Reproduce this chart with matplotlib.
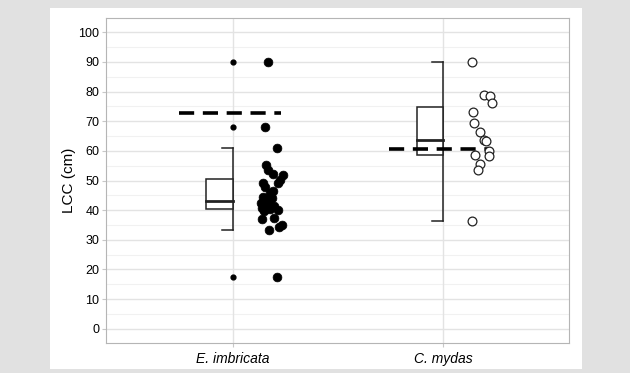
import matplotlib
matplotlib.use("Agg")
import matplotlib.pyplot as plt
from matplotlib.patches import Rectangle
import numpy as np

plt.rcParams['font.family'] = ['Liberation Sans', 'DejaVu Sans']

categories = ["E. imbricata", "C. mydas"]

# Box stats: whisker low, q1, median, q3, whisker high
whisker_low = [33.3, 36.3]
q1 = [40.3, 58.5]
median = [43.0, 63.8]
q3 = [50.4, 74.9]
whisker_high = [61.1, 90.1]
outliers = [[90.0, 68.0, 17.5], []]
mean_line = [72.9, 60.7]

imbricata_vals = [90.0, 68.0, 61.1, 55.3, 53.4, 52.2, 51.9, 50.2, 49.1, 49.1,
                  47.8, 46.3, 45.7, 44.6, 44.0, 43.5, 42.5, 42.0, 41.5, 40.8,
                  40.5, 40.1, 39.8, 37.1, 37.3, 35.0, 34.2, 33.4, 17.4]
imbricata_off = [0.168, 0.154, 0.213, 0.158, 0.169, 0.193, 0.238, 0.225, 0.146, 0.217,
                 0.154, 0.190, 0.177, 0.144, 0.187, 0.154, 0.135, 0.168, 0.196, 0.139,
                 0.177, 0.215, 0.149, 0.141, 0.196, 0.234, 0.220, 0.173, 0.210]
mydas_vals = [90.1, 78.9, 78.5, 76.3, 73.0, 69.3, 66.5, 63.7, 63.4, 60.1,
              58.6, 58.3, 55.5, 53.6, 36.2]
mydas_off = [0.138, 0.197, 0.224, 0.231, 0.141, 0.145, 0.176, 0.193, 0.206, 0.217,
             0.151, 0.217, 0.176, 0.168, 0.138]

yticks = list(range(0, 101, 10))

fig = plt.figure(figsize=(6.3, 3.73), dpi=100)
fig.patch.set_facecolor("#e1e1e1")
fig.patches.append(Rectangle((0.0794, 0.0099), 0.8452, 0.9678, transform=fig.transFigure,
                             facecolor="white", edgecolor="none", zorder=-5))

ax = fig.add_axes([0.169, 0.0812, 0.7346, 0.8697])
ax.set_zorder(2)
ax.set_facecolor("white")
ax.set_xlim(0.4, 2.6)
ax.set_ylim(-4.7, 104.7)

# grid
for y in np.arange(-5, 105, 5):
    if y % 10 == 0:
        ax.axhline(y, color="#e3e3e3", lw=1.0, zorder=1)
    else:
        ax.axhline(y, color="#f1f1f1", lw=0.8, zorder=1)
for x in [1, 2]:
    ax.axvline(x, color="#e3e3e3", lw=1.0, zorder=1)

bw = 0.125
capw = 0.053
lc = "#222222"
for i in range(2):
    c = i + 1
    ax.plot([c, c], [whisker_low[i], whisker_high[i]], color=lc, lw=1.1, zorder=3)
    ax.plot([c - capw, c], [whisker_low[i]] * 2, color=lc, lw=1.1, zorder=3)
    ax.plot([c - capw, c], [whisker_high[i]] * 2, color=lc, lw=1.1, zorder=3)
    ax.add_patch(Rectangle((c - bw, q1[i]), bw, q3[i] - q1[i], facecolor="white",
                           edgecolor=lc, lw=1.1, zorder=3))
    ax.plot([c - bw, c], [median[i]] * 2, color=lc, lw=2.0, zorder=4)
    if outliers[i]:
        ax.scatter([c] * len(outliers[i]), outliers[i], s=12, color="black", zorder=4)
    ax.plot([c - 0.255, c + 0.23], [mean_line[i]] * 2, color="black", lw=2.6,
            ls=(0, (4.2, 2.4)), zorder=5)

ax.scatter([1 + o for o in imbricata_off], imbricata_vals, s=40, color="black",
           edgecolors="black", linewidths=0.5, zorder=4)
ax.scatter([2 + o for o in mydas_off], mydas_vals, s=40, facecolors="white",
           edgecolors="#222222", linewidths=0.9, zorder=6)

ax.set_yticks(yticks)
ax.set_yticklabels([str(t) for t in yticks], fontsize=9)
ax.set_xticks([1, 2])
ax.set_xticklabels(categories, fontsize=10, style="italic")
ax.tick_params(length=3, width=0.8, color="#c8c8c8", pad=2)
ax.tick_params(axis="x", pad=4)
ax.set_ylabel("LCC (cm)", fontsize=11, labelpad=2)
for s in ax.spines.values():
    s.set_color("#b5b5b5")
    s.set_linewidth(0.8)

fig.savefig("out.png", dpi=100, facecolor=fig.get_facecolor())
